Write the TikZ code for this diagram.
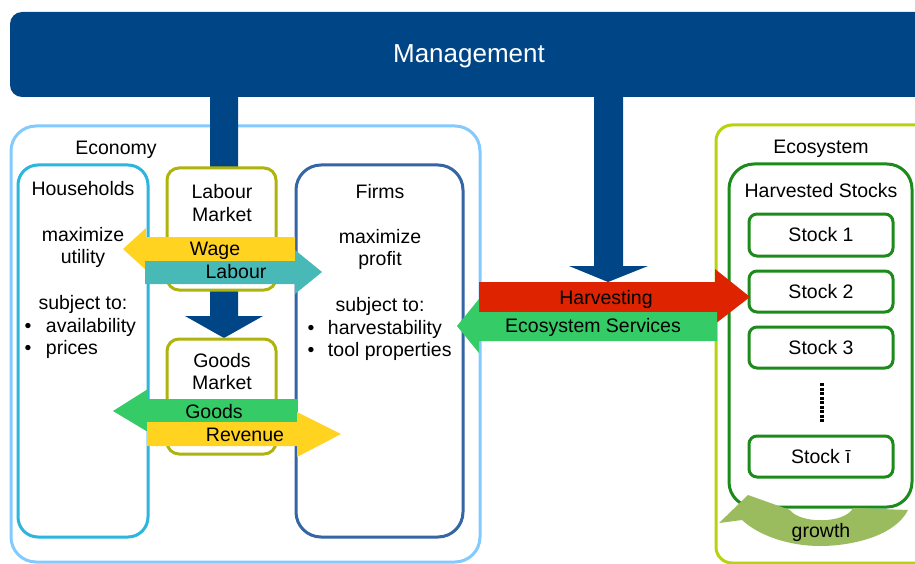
\documentclass[tikz,border=0pt]{standalone}
\usepackage{fontspec}
\setmainfont{Liberation Sans}
\definecolor{mgmt}{HTML}{004586}
\definecolor{ecoc}{HTML}{83CAFF}
\definecolor{hhc}{HTML}{2CB5DD}
\definecolor{firmc}{HTML}{3465A4}
\definecolor{mktc}{HTML}{AEB40C}
\definecolor{ecosc}{HTML}{B7D30E}
\definecolor{stockc}{HTML}{1C8B1C}
\definecolor{yel}{HTML}{FFD320}
\definecolor{teal}{HTML}{48B9B7}
\definecolor{grn}{HTML}{35CB66}
\definecolor{redc}{HTML}{DD2300}
\definecolor{growc}{HTML}{9BBB5F}
\begin{document}
\begin{tikzpicture}[x=1pt,y=-1pt,
  font=\fontsize{19.5}{22.5}\selectfont,
  box/.style={draw, line width=3pt, fill=white, inner sep=0pt, outer sep=0pt},
  lbl/.style={anchor=base, inner sep=0pt, outer sep=0pt},
  blt/.style={anchor=base west, inner sep=0pt, outer sep=0pt}]
\useasboundingbox (0,0) rectangle (915,564);

% outer containers
\node[box, draw=ecoc, rounded corners=25pt, minimum width=469pt, minimum height=436pt] (economy) at (245.5,344) {};
\node[box, draw=ecosc, rounded corners=16pt, minimum width=240pt, minimum height=438pt] (ecosystem) at (836,344) {};

% management
\node[fill=mgmt, rounded corners=12pt, minimum width=940pt, minimum height=85pt, inner sep=0pt] (mgmt) at (480,54.5) {};
\node[lbl, white, font=\fontsize{26}{30}\selectfont] (mgmttxt) at (469,63) {Management};

% management arrows
\fill[mgmt] (210,95) -- (238,95) -- (238,316) -- (263,316) -- (224,338) -- (185,316) -- (210,316) -- cycle;
\fill[mgmt] (594,95) -- (623,95) -- (623,266) -- (648,266) -- (608,282) -- (569,266) -- (594,266) -- cycle;

% economy boxes
\node[box, draw=hhc, rounded corners=20pt, minimum width=130pt, minimum height=372pt] (households) at (83,351) {};
\node[box, draw=firmc, rounded corners=25pt, minimum width=167pt, minimum height=372pt] (firms) at (379.5,351) {};
\node[box, draw=mktc, rounded corners=12pt, minimum width=109pt, minimum height=122pt] (labmkt) at (221.5,229) {};
\node[box, draw=mktc, rounded corners=12pt, minimum width=109pt, minimum height=115pt] (goodsmkt) at (221.5,396.5) {};

% ecosystem boxes
\node[box, draw=stockc, rounded corners=25pt, minimum width=183pt, minimum height=343pt] (harv) at (820.5,335.5) {};
\node[box, draw=stockc, rounded corners=8pt, minimum width=144pt, minimum height=42pt] (s1) at (821,235) {};
\node[box, draw=stockc, rounded corners=8pt, minimum width=144pt, minimum height=41pt] (s2) at (821,291.5) {};
\node[box, draw=stockc, rounded corners=8pt, minimum width=144pt, minimum height=41pt] (s3) at (821,347.5) {};
\node[box, draw=stockc, rounded corners=8pt, minimum width=144pt, minimum height=41pt] (si) at (821,456.5) {};
\coordinate (dtop) at (822,383);
\coordinate (dbot) at (822,423);
\draw[line width=3.2pt, dash pattern=on 3pt off 1.5pt] (dtop) -- (dbot);

% flow arrows
\fill[yel] (295,237) -- (146,237) -- (146,228) -- (123,249) -- (146,270) -- (146,261) -- (295,261) -- cycle;
\fill[teal] (145,261) -- (295,261) -- (295,250) -- (322,272) -- (295,294) -- (295,284) -- (145,284) -- cycle;
\fill[grn] (297,399) -- (148,399) -- (148,389) -- (113,411) -- (148,432) -- (148,422) -- (297,422) -- cycle;
\fill[yel] (147,422) -- (297,422) -- (297,412) -- (341,434) -- (297,457) -- (297,446) -- (147,446) -- cycle;
\fill[redc] (479,282) -- (715,282) -- (715,269) -- (750,297) -- (715,324) -- (715,312) -- (479,312) -- cycle;
\fill[grn] (717,312) -- (479,312) -- (479,299) -- (457,326) -- (479,353) -- (479,341) -- (717,341) -- cycle;

% growth arrow
\fill[growc] (719,523) -- (748,495) -- (790,510) .. controls (800,524) and (845,524) .. (853,508) -- (908,510)
  .. controls (895,536) and (852,546) .. (820,546) .. controls (788,546) and (758,535) .. (742,520) -- cycle;

% texts
\node[lbl] (tecon) at (116,155) {Economy};
\node[lbl] (thh) at (83,196) {Households};
\node[lbl] (thh1) at (83,241.5) {maximize};
\node[lbl] (thh2) at (83,263.5) {utility};
\node[lbl] (thh3) at (83,309) {subject to:};
\node[blt] (thh4) at (24.5,332) {\makebox[21.5pt][l]{•}availability};
\node[blt] (thh5) at (24.5,354.5) {\makebox[21.5pt][l]{•}prices};

\node[lbl] (tlab1) at (222,199) {Labour};
\node[lbl] (tlab2) at (222,221.5) {Market};
\node[lbl] (tgm1) at (222,367) {Goods};
\node[lbl] (tgm2) at (222,389) {Market};

\node[lbl] (tf) at (380,198) {Firms};
\node[lbl] (tf1) at (380,243) {maximize};
\node[lbl] (tf2) at (380,265.5) {profit};
\node[lbl] (tf3) at (380,311) {subject to:};
\node[blt] (tf4) at (307.5,334) {\makebox[20.5pt][l]{•}harvestability};
\node[blt] (tf5) at (307.5,356.5) {\makebox[20.5pt][l]{•}tool properties};

\node[lbl] (twage) at (215,255.5) {Wage};
\node[lbl] (tlabour) at (236,278.5) {Labour};
\node[lbl] (tgoods) at (214,418) {Goods};
\node[lbl] (trev) at (245,441) {Revenue};
\node[lbl] (tharv) at (606,304) {Harvesting};
\node[lbl] (tes) at (593,332.5) {Ecosystem Services};

\node[lbl] (tecos) at (821,154) {Ecosystem};
\node[lbl] (ths) at (821,197.5) {Harvested Stocks};
\node[lbl] at (s1.center) [yshift=-6.5pt] {Stock 1};
\node[lbl] at (s2.center) [yshift=-6.5pt] {Stock 2};
\node[lbl] at (s3.center) [yshift=-6.5pt] {Stock 3};
\node[lbl] at (si.center) [yshift=-6.5pt] {Stock ī};
\node[lbl] (tgrowth) at (821,537) {growth};
\end{tikzpicture}
\end{document}
